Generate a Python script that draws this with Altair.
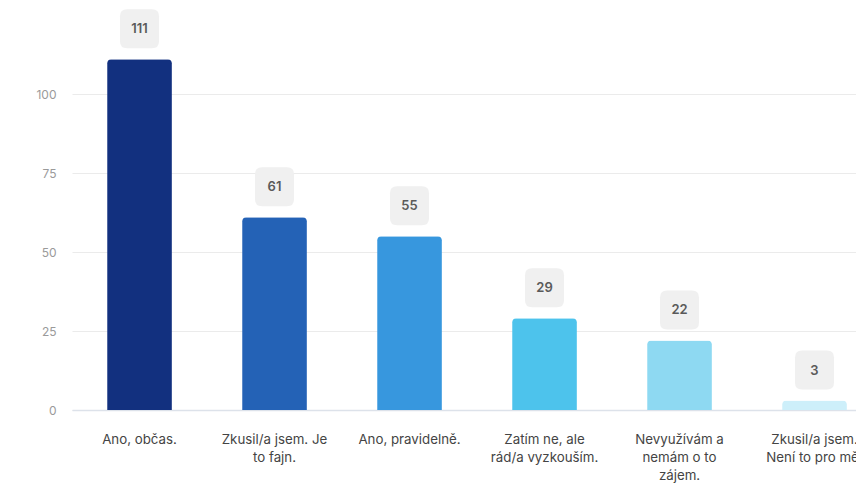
import altair as alt
import pandas as pd

categories = [
    "Ano, občas.",
    "Zkusil/a jsem. Je to fajn.",
    "Ano, pravidelně.",
    "Zatím ne, ale rád/a vyzkouším.",
    "Nevyužívám a nemám o to zájem.",
    "Zkusil/a jsem. Není to pro mě.",
]
label_lines = [
    ["Ano, občas."],
    ["Zkusil/a jsem. Je", "to fajn."],
    ["Ano, pravidelně."],
    ["Zatím ne, ale", "rád/a vyzkouším."],
    ["Nevyužívám a", "nemám o to", "zájem."],
    ["Zkusil/a jsem.", "Není to pro mě."],
]
values = [111, 61, 55, 29, 22, 3]
colors = ["#12307F", "#2462B6", "#3797DE", "#4DC3EC", "#8ED9F2", "#CDEFFA"]
y_ticks = [0, 25, 50, 75, 100]

df = pd.DataFrame({"cat": categories, "value": values, "color": colors})

pairs = ", ".join(
    "'%s': [%s]" % (c, ", ".join("'%s'" % s for s in lines))
    for c, lines in zip(categories, label_lines)
)
label_expr = "({%s})[datum.label]" % pairs

FONT = "Inter"

x_enc = alt.X(
    "cat:N",
    sort=categories,
    scale=alt.Scale(range=[0, 810], paddingInner=0.52, paddingOuter=0.26),
    axis=alt.Axis(
        title=None,
        labelAngle=0,
        labelExpr=label_expr,
        labelFont=FONT,
        labelFontSize=13.3,
        labelColor="#444444",
        labelPadding=22,
        labelLineHeight=18,
        labelLimit=200,
        ticks=False,
        domain=True,
        domainColor="#DDE2EA",
        domainWidth=1.5,
        grid=False,
    ),
)
y_enc = alt.Y(
    "value:Q",
    scale=alt.Scale(domain=[0, 125], nice=False),
    axis=alt.Axis(
        title=None,
        values=y_ticks,
        labelFont=FONT,
        labelFontSize=12,
        labelColor="#9A9A9A",
        labelPadding=16,
        ticks=False,
        domain=False,
        grid=True,
        gridColor="#EBEBEB",
        gridWidth=1.2,
    ),
)

base = alt.Chart(df).encode(x=x_enc, y=y_enc)

bars = base.mark_bar(
    cornerRadiusTopLeft=4, cornerRadiusTopRight=4
).encode(color=alt.Color("color:N", scale=None))

box_path = (
    "M -0.64 -1 L 0.64 -1 Q 1 -1 1 -0.64 L 1 0.64 Q 1 1 0.64 1 "
    "L -0.64 1 Q -1 1 -1 0.64 L -1 -0.64 Q -1 -1 -0.64 -1 Z"
)
boxes = base.mark_point(
    shape=box_path, filled=True, size=39 * 39, color="#F0F0F0", opacity=1,
    yOffset=-30.5,
)

texts = base.mark_text(
    font=FONT, fontSize=13, fontWeight=600, color="#5A5A5A",
    baseline="middle", align="center", yOffset=-30,
).encode(text="value:Q")

chart = alt.layer(bars, boxes, texts).properties(
    width=784,
    height=395,
    background="white",
    autosize=alt.AutoSizeParams(type="none"),
    padding={"left": 64, "top": 7, "right": 0, "bottom": 80},
).configure_view(strokeWidth=0, stroke="transparent")

chart.save("out.html", embed_options={"renderer": "svg", "actions": False})
